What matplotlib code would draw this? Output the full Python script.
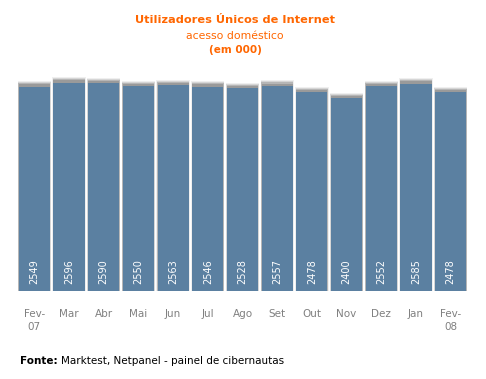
import numpy as np
import matplotlib.pyplot as plt

meses = ['Fev-\n07', 'Mar', 'Abr', 'Mai', 'Jun', 'Jul', 'Ago', 'Set', 'Out', 'Nov', 'Dez', 'Jan', 'Fev-\n08']
utilizadores = [2549, 2596, 2590, 2550, 2563, 2546, 2528, 2557, 2478, 2400, 2552, 2585, 2478]

laranja = '#FF6600'
azul = '#5B80A1'

fig = plt.figure(figsize=(4.86, 3.79), dpi=100)
ax = fig.add_axes([17 / 486, 88 / 379, 451 / 486, 231 / 379])

x = np.arange(len(meses))
vals = np.array(utilizadores)

# sombra difusa por tras das barras
for dw, dh, a in [(0.06, 70, 0.1), (0.04, 58, 0.18), (0.02, 45, 0.28), (0.0, 30, 0.35)]:
    ax.bar(x, vals + dh, width=0.9 + dw, color='#666666', alpha=a, linewidth=0, zorder=1)

ax.bar(x, vals, width=0.9, color=azul, linewidth=0, zorder=3)

for xi, v in zip(x, vals):
    ax.text(xi, 90, str(v), rotation=90, ha='center', va='bottom', color='white',
            fontsize=7, zorder=4)

ax.set_xlim(-0.5, len(meses) - 0.5)
ax.set_ylim(0, 2880)
ax.axis('off')

for xi, m in zip(x, meses):
    ax.text(xi, -230, m, ha='center', va='top', color='#808080', fontsize=7.5,
            linespacing=1.35)

fig.text(235 / 486, 1 - 20 / 379, 'Utilizadores Únicos de Internet', ha='center', va='center',
         color=laranja, fontsize=8.2, fontweight='bold')
fig.text(235 / 486, 1 - 36 / 379, 'acesso doméstico', ha='center', va='center',
         color=laranja, fontsize=7.8)
fig.text(235 / 486, 1 - 50 / 379, '(em 000)', ha='center', va='center',
         color=laranja, fontsize=7.5, fontweight='bold')

fig.text(20 / 486, 1 - 361 / 379, 'Fonte:', ha='left', va='center', color='black',
         fontsize=7.5, fontweight='bold')
fig.text(61 / 486, 1 - 361 / 379, 'Marktest, Netpanel - painel de cibernautas', ha='left',
         va='center', color='black', fontsize=7.5)

fig.savefig('out.png', dpi=100)
